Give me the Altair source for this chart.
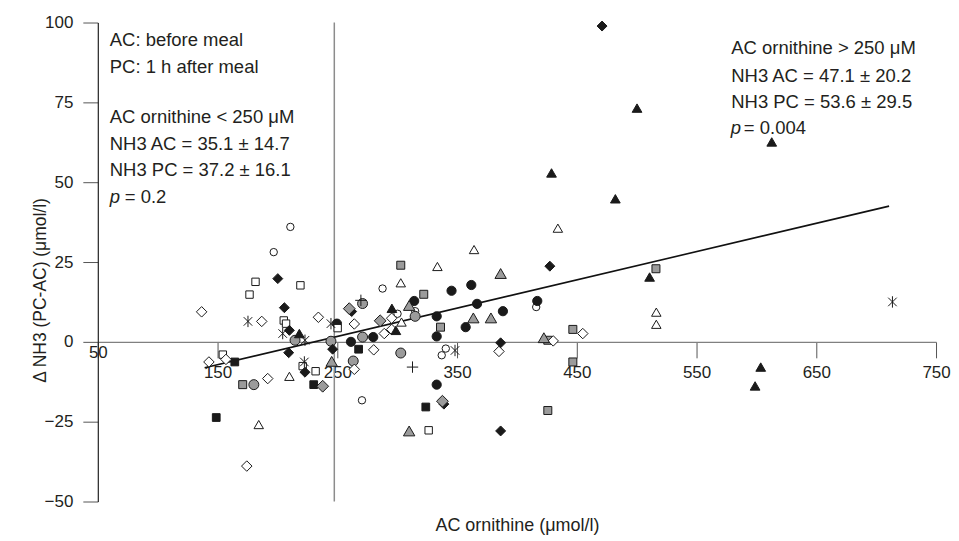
import altair as alt
import pandas as pd

# ---- data ----
oc_x = [210.8, 196.9, 287.8, 315.0, 270.6, 340.6, 337.2, 416.1, 300.3]
oc_y = [36.0, 28.1, 16.7, 9.6, -18.3, -2.1, -4.2, 10.9, 8.8]

fc_x = [249.7, 261.4, 280.0, 314.2, 333.0, 333.0, 333.0, 345.4, 361.9, 366.7, 357.2, 388.3, 417.0]
fc_y = [5.7, 0.0, 1.5, 12.8, 8.0, 1.7, -13.4, 16.0, 17.8, 11.9, 4.6, 9.6, 12.8]

gc_x = [180.3, 214.7, 244.7, 271.1, 271.1, 263.3, 315.0, 303.0]
gc_y = [-13.4, 0.5, 0.2, 12.0, 1.5, -6.0, 8.0, -3.5]

os_x = [181.7, 176.7, 219.2, 205.3, 207.2, 250.3, 154.4, 221.1, 231.9, 326.3]
os_y = [18.8, 14.8, 17.7, 6.7, 5.7, 4.3, -4.0, -7.6, -9.2, -27.7]

fs_x = [164.4, 148.9, 230.3, 267.8, 323.9]
fs_y = [-6.3, -23.7, -13.4, -2.3, -20.4]

gs_x = [171.0, 303.0, 322.2, 336.2, 446.7, 425.8, 446.7, 425.8, 516.1]
gs_y = [-13.4, 24.0, 14.9, 4.6, 3.9, 0.5, -6.3, -21.5, 22.9]

od_x = [136.7, 186.9, 142.8, 157.0, 191.9, 174.4, 234.2, 264.2, 280.4, 264.2,
        289.2, 295.4, 295.4, 385.0, 430.3, 455.0]
od_y = [9.4, 6.4, -6.3, -5.5, -11.5, -38.9, 7.7, 5.6, -2.5, -8.6,
        2.6, 7.4, 3.9, -3.0, 0.3, 2.6]

fd_x = [200.3, 205.8, 210.0, 209.4, 223.0, 246.1, 262.0, 339.0, 386.4, 386.4, 427.5, 471.1]
fd_y = [19.8, 10.7, 3.6, -3.4, -9.5, -2.3, 9.5, -19.5, -0.3, -27.9, 23.7, 98.9]

gd_x = [237.8, 260.0, 285.8, 337.8]
gd_y = [-13.9, 10.4, 6.6, -18.6]

ot_x = [210.0, 184.4, 303.0, 303.6, 333.6, 364.2, 434.2, 516.4, 516.4]
ot_y = [-10.8, -25.9, 18.5, 6.2, 23.6, 28.9, 35.6, 9.3, 5.5]

ft_x = [295.6, 298.9, 428.9, 482.2, 500.3, 510.8, 612.8, 603.6, 598.9, 218.3]
ft_y = [10.5, 3.6, 52.9, 44.8, 73.2, 20.3, 62.6, -7.9, -13.8, 2.6]

gt_x = [245.3, 310.0, 363.6, 378.3, 386.4, 422.5, 310.0]
gt_y = [-6.1, 11.4, 7.5, 7.5, 21.4, 1.3, -27.9]

as_x = [175.4, 204.4, 223.0, 222.5, 244.7, 348.3, 713.6]
as_y = [6.4, 2.6, 0.5, -6.3, 5.7, -2.7, 12.5]

pl_x = [269.7, 312.8]
pl_y = [13.0, -7.9]

fit_x = [139.2, 710.8]
fit_y = [-8.1, 42.5]

cutoff_x = [247.5]

x_ticks = [50, 150, 250, 350, 450, 550, 650, 750]
y_ticks = [-50, -25, 0, 25, 50, 75, 100]

left_lines = ["AC: before meal", "PC: 1 h after meal", "AC ornithine < 250 \u03bcM",
              "NH3 AC = 35.1 \u00b1 14.7", "NH3 PC = 37.2 \u00b1 16.1"]
left_y = [94.4, 86.0, 70.4, 62.1, 53.8]
right_lines = ["AC ornithine > 250 \u03bcM", "NH3 AC = 47.1 \u00b1 20.2", "NH3 PC = 53.6 \u00b1 29.5"]
right_y = [91.9, 83.4, 75.0]
p_texts = ["= 0.2", "= 0.004"]
p_y = [45.4, 66.9]

# ---- build tables ----
groups = [
    ("open circle", oc_x, oc_y), ("gray circle", gc_x, gc_y), ("filled circle", fc_x, fc_y),
    ("open square", os_x, os_y), ("filled square", fs_x, fs_y), ("gray square", gs_x, gs_y),
    ("open diamond", od_x, od_y), ("filled diamond", fd_x, fd_y), ("gray diamond", gd_x, gd_y),
    ("open triangle", ot_x, ot_y), ("filled triangle", ft_x, ft_y), ("gray triangle", gt_x, gt_y),
    ("asterisk", as_x, as_y), ("plus", pl_x, pl_y),
]
rows = []
for order, (g, xs, ys) in enumerate(groups):
    for xv, yv in zip(xs, ys):
        rows.append({"group": g, "x": xv, "y": yv, "order": order})
pts = pd.DataFrame(rows)

names = [g[0] for g in groups]
ASTER = "M0,-1L0,1M-0.75,-0.75L0.75,0.75M-0.75,0.75L0.75,-0.75"
PLUS = "M-1,0L1,0M0,-1L0,1"
shape_range = ["circle", "circle", "circle", "square", "square", "square",
               "diamond", "diamond", "diamond", "triangle-up", "triangle-up", "triangle-up",
               ASTER, PLUS]
WHITE, BLACK, GRAY = "white", "#1a1a1a", "#9b9b9b"
fill_range = [WHITE, GRAY, BLACK, WHITE, BLACK, GRAY, WHITE, BLACK, GRAY,
              WHITE, BLACK, GRAY, WHITE, WHITE]
size_map = {"open circle": 55, "gray circle": 100, "filled circle": 85,
            "open square": 55, "filled square": 60, "gray square": 64,
            "open diamond": 110, "filled diamond": 100, "gray diamond": 140,
            "open triangle": 90, "filled triangle": 95, "gray triangle": 130,
            "asterisk": 130, "plus": 130}
pts["sz"] = pts["group"].map(size_map)

FONT = "Liberation Sans"
TXT = "#231f20"

xscale = alt.Scale(domain=[50, 750], nice=False, zero=False)
yscale = alt.Scale(domain=[-50, 100], nice=False, zero=False)

xaxis = alt.Axis(values=x_ticks, offset=-160, tickSize=16, tickColor="#555555",
                 domainColor="#808080", domainWidth=1.2, labelFont=FONT, labelFontSize=17,
                 labelColor=TXT, labelBaseline="middle", labelFlush=False, labelOverlap=False,
                 labelPadding={"condition": {"test": "datum.value == 50", "value": -5}, "value": 15},
                 grid=False, title="AC ornithine (\u03bcmol/l)", titleFont=FONT, titleFontSize=18,
                 titleFontWeight="normal", titleColor=TXT, titleY=184, titleBaseline="middle")
yaxis = alt.Axis(values=y_ticks, tickSize=15, tickColor="#555555", domainColor="#222222",
                 domainWidth=1.2, labelFont=FONT, labelFontSize=17, labelColor=TXT,
                 labelPadding=10, labelFlush=False, labelOverlap=False, grid=False,
                 title="\u0394 NH3 (PC-AC) (\u03bcmol/l)", titleFont=FONT, titleFontSize=17.5,
                 titleFontWeight="normal", titleColor=TXT, titleX=-57, titleY=268,
                 titleAngle=270, titleAlign="center", titleBaseline="middle")

base_axes = alt.Chart(pd.DataFrame({"x": [50], "y": [0]})).mark_point(opacity=0).encode(
    x=alt.X("x:Q", scale=xscale, axis=xaxis),
    y=alt.Y("y:Q", scale=yscale, axis=yaxis),
)

cut = alt.Chart(pd.DataFrame({"x": cutoff_x})).mark_rule(color="#8c8c8c", strokeWidth=1.5).encode(
    x=alt.X("x:Q", scale=xscale),
)

fit = alt.Chart(pd.DataFrame({"x": fit_x, "y": fit_y})).mark_line(color="#111111", strokeWidth=1.6).encode(
    x=alt.X("x:Q", scale=xscale), y=alt.Y("y:Q", scale=yscale)
)

points = alt.Chart(pts).mark_point(filled=True, stroke="#1a1a1a", strokeWidth=1, opacity=1).encode(
    x=alt.X("x:Q", scale=xscale),
    y=alt.Y("y:Q", scale=yscale),
    shape=alt.Shape("group:N", scale=alt.Scale(domain=names, range=shape_range), legend=None),
    fill=alt.Fill("group:N", scale=alt.Scale(domain=names, range=fill_range), legend=None),
    size=alt.Size("sz:Q", scale=None),
    order=alt.Order("order:Q"),
)

ANN_FS = 18.5
ann_df = pd.DataFrame({
    "text": left_lines + right_lines,
    "x": [60] * len(left_lines) + [579] * len(right_lines),
    "y": left_y + right_y,
})
ann = alt.Chart(ann_df).mark_text(align="left", baseline="middle", font=FONT, fontSize=ANN_FS,
                                  color=TXT).encode(
    x=alt.X("x:Q", scale=xscale), y=alt.Y("y:Q", scale=yscale), text="text:N")

p_df = pd.DataFrame({"x": [60, 578.5], "y": p_y})
p_italic = alt.Chart(p_df).mark_text(align="left", baseline="middle", font=FONT, fontSize=ANN_FS,
                                     fontStyle="italic", color=TXT, text="p").encode(
    x=alt.X("x:Q", scale=xscale), y=alt.Y("y:Q", scale=yscale))
pv_df = pd.DataFrame({"x": [72.5, 589.5], "y": p_y, "text": p_texts})
p_val = alt.Chart(pv_df).mark_text(align="left", baseline="middle", font=FONT, fontSize=ANN_FS,
                                   color=TXT).encode(
    x=alt.X("x:Q", scale=xscale), y=alt.Y("y:Q", scale=yscale), text="text:N")

chart = alt.layer(base_axes, cut, fit, points, ann, p_italic, p_val).properties(
    width=840, height=480,
    autosize=alt.AutoSizeParams(type="none"),
    padding={"left": 90, "top": 14, "right": 15, "bottom": 36},
    background="white",
).configure_view(stroke=None)

chart.save("out.html", embed_options={"renderer": "svg", "actions": False})
